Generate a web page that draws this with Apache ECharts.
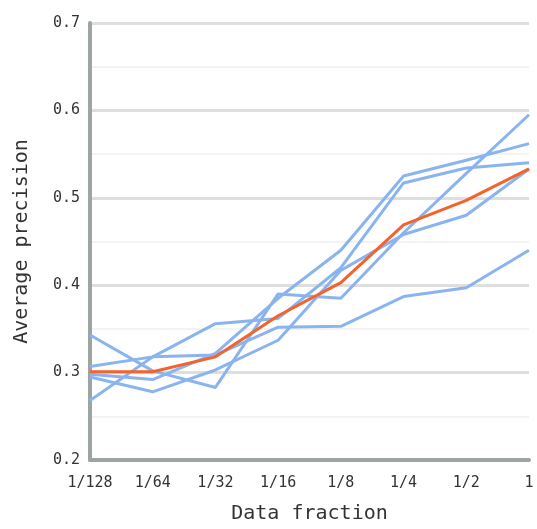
<!DOCTYPE html>
<html>
<head>
<meta charset="utf-8">
<script src="https://cdn.jsdelivr.net/npm/echarts@6/dist/echarts.min.js"></script>
<style>
  html, body { margin: 0; padding: 0; background: #ffffff; }
  #chart { width: 537px; height: 529px; }
</style>
</head>
<body>
<div id="chart"></div>
<script>
// Training data fractions on the x axis
const fractions = ['1/128', '1/64', '1/32', '1/16', '1/8', '1/4', '1/2', '1'];

// Average precision of the individual runs
const runA = [0.343, 0.302, 0.283, 0.390, 0.385, 0.460, 0.528, 0.595];
const runB = [0.268, 0.318, 0.320, 0.352, 0.353, 0.387, 0.397, 0.440];
const runC = [0.307, 0.318, 0.356, 0.362, 0.420, 0.517, 0.534, 0.540];
const runD = [0.298, 0.292, 0.322, 0.385, 0.440, 0.525, 0.543, 0.562];
const runE = [0.295, 0.278, 0.303, 0.337, 0.417, 0.458, 0.480, 0.533];

// Mean across runs
const meanRun = [0.301, 0.301, 0.318, 0.365, 0.403, 0.469, 0.497, 0.533];

const runs = [runA, runB, runC, runD, runE];

const mono = '"DejaVu Sans Mono", "Liberation Mono", monospace';
const blue = '#8ab4ef';
const orange = '#f3632b';
const axisGray = '#9ea4a4';

const series = runs.map(function (values, i) {
  return {
    name: 'run ' + (i + 1),
    type: 'line',
    data: values,
    symbol: 'none',
    z: 2,
    lineStyle: { color: blue, width: 3 }
  };
});
series.push({
  name: 'mean',
  type: 'line',
  data: meanRun,
  symbol: 'none',
  z: 3,
  lineStyle: { color: orange, width: 3 }
});

const chart = echarts.init(document.getElementById('chart'), null, { renderer: 'canvas' });
chart.setOption({
  animation: false,
  backgroundColor: '#ffffff',
  grid: { left: 90, right: 8, top: 23, bottom: 66, containLabel: false },
  xAxis: {
    type: 'category',
    data: fractions,
    boundaryGap: false,
    name: 'Data fraction',
    nameLocation: 'middle',
    nameGap: 44,
    nameTextStyle: { fontFamily: mono, fontSize: 20, color: '#333333' },
    axisLine: { show: true, lineStyle: { color: axisGray, width: 4 } },
    axisTick: { show: false },
    axisLabel: { fontFamily: mono, fontSize: 15, color: '#333333', margin: 16 },
    splitLine: { show: false }
  },
  yAxis: {
    type: 'value',
    min: 0.2,
    max: 0.7,
    interval: 0.1,
    name: 'Average precision',
    nameLocation: 'middle',
    nameGap: 58,
    nameTextStyle: { fontFamily: mono, fontSize: 20, color: '#333333' },
    axisLine: { show: true, lineStyle: { color: axisGray, width: 4 } },
    axisTick: { show: false },
    axisLabel: {
      fontFamily: mono, fontSize: 15, color: '#333333', margin: 10,
      padding: [0, 0, 8, 0],
      formatter: function (v) { return v.toFixed(1); }
    },
    splitLine: { show: true, lineStyle: { color: '#dedede', width: 3 } },
    minorTick: { show: false, splitNumber: 2 },
    minorSplitLine: { show: true, lineStyle: { color: '#efefef', width: 1.5 } }
  },
  series: series
});
</script>
</body>
</html>
